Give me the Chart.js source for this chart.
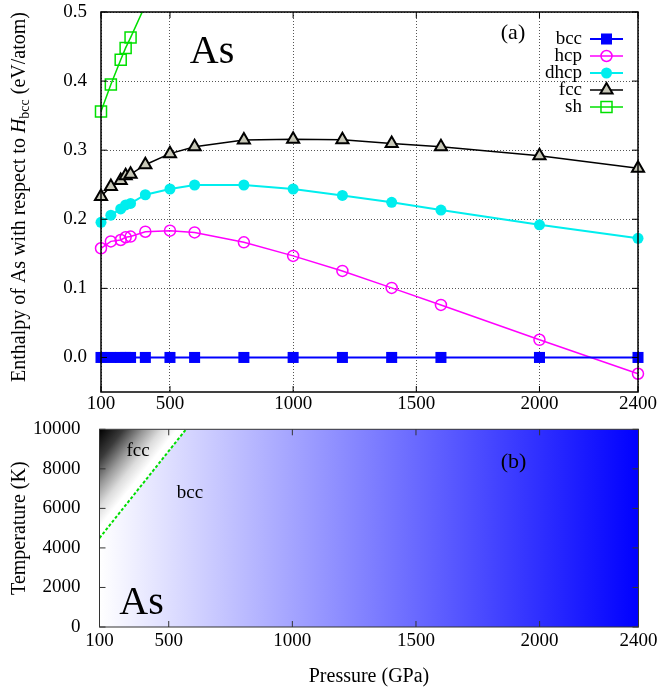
<!DOCTYPE html>
<html>
<head>
<meta charset="utf-8">
<script src="https://cdn.jsdelivr.net/npm/chart.js@4.4.1/dist/chart.umd.min.js"></script>
<style>
  html, body { margin: 0; padding: 0; background: #fff; }
  #wrap { position: relative; width: 659px; height: 688px; }
  canvas { position: absolute; left: 0; }
  #chartA { top: 0; }
  #chartB { top: 415px; }
</style>
</head>
<body>
<div id="wrap">
  <canvas id="chartA" width="659" height="415"></canvas>
  <canvas id="chartB" width="659" height="273"></canvas>
</div>
<script>
// pressures (GPa) of the computed points, panel (a)
var pressures = [220, 260, 300, 320, 340, 400, 500, 600, 800, 1000, 1200, 1400, 1600, 2000, 2400];
// enthalpy relative to bcc (eV/atom)
var bccH  = [0, 0, 0, 0, 0, 0, 0, 0, 0, 0, 0, 0, 0, 0, 0];
var hcpH  = [0.158, 0.168, 0.170, 0.174, 0.175, 0.182, 0.1835, 0.181, 0.1666, 0.147, 0.1252, 0.1007, 0.076, 0.0256, -0.0236];
var dhcpH = [0.1956, 0.206, 0.215, 0.2207, 0.223, 0.2355, 0.2438, 0.2496, 0.2496, 0.2438, 0.2345, 0.2245, 0.2134, 0.192, 0.1724];
var fccH  = [0.233, 0.2476, 0.256, 0.263, 0.265, 0.279, 0.295, 0.305, 0.3146, 0.316, 0.315, 0.3097, 0.305, 0.292, 0.274];
var shP   = [220, 260, 300, 320, 340, 400];
var shH   = [0.356, 0.395, 0.431, 0.448, 0.463, 0.51];

// axis ticks
var xTickValues = [220, 500, 1000, 1500, 2000, 2400];
var xTickLabels = ["100", "500", "1000", "1500", "2000", "2400"];
var yTickValuesA = [0, 0.1, 0.2, 0.3, 0.4, 0.5];
var yTickValuesB = [0, 2000, 4000, 6000, 8000, 10000];

// panel (b): fcc/bcc phase boundary
var boundaryP = [220, 570];
var boundaryT = [4500, 10000];

Chart.defaults.font.family = "'Liberation Serif', 'DejaVu Serif', serif";
Chart.defaults.color = "#000";

var SERIF = "'Liberation Serif', 'DejaVu Serif', serif";

function pts(xs, ys) {
  return xs.map(function(x, i) { return { x: x, y: ys[i] }; });
}

function drawMarker(ctx, ds, x, y) {
  var r = ds.pointRadius;
  ctx.save();
  ctx.lineWidth = ds.pointBorderWidth;
  ctx.strokeStyle = ds.pointBorderColor;
  ctx.fillStyle = ds.pointBackgroundColor;
  ctx.beginPath();
  if (ds.pointStyle === "rect") {
    var s = r * Math.SQRT1_2;
    ctx.rect(x - s, y - s, 2 * s, 2 * s);
  } else if (ds.pointStyle === "triangle") {
    ctx.moveTo(x, y - r);
    ctx.lineTo(x + r * 0.866, y + r / 2);
    ctx.lineTo(x - r * 0.866, y + r / 2);
    ctx.closePath();
  } else {
    ctx.arc(x, y, r, 0, 2 * Math.PI);
  }
  ctx.fill();
  if (ds.pointBorderWidth) ctx.stroke();
  ctx.restore();
}

// inward tick marks on all four sides + frame
function frameAndTicks(color, width) {
  return {
    id: "frameTicks",
    afterDatasetsDraw: function(chart) {
      var a = chart.chartArea, ctx = chart.ctx;
      ctx.save();
      ctx.strokeStyle = color;
      ctx.lineWidth = 1;
      ctx.beginPath();
      chart.scales.x.ticks.forEach(function(t) {
        var px = chart.scales.x.getPixelForValue(t.value);
        ctx.moveTo(px, a.bottom); ctx.lineTo(px, a.bottom - 6);
        ctx.moveTo(px, a.top); ctx.lineTo(px, a.top + 6);
      });
      chart.scales.y.ticks.forEach(function(t) {
        var py = chart.scales.y.getPixelForValue(t.value);
        ctx.moveTo(a.left, py); ctx.lineTo(a.left + 6, py);
        ctx.moveTo(a.right, py); ctx.lineTo(a.right - 6, py);
      });
      ctx.stroke();
      ctx.lineWidth = width;
      ctx.strokeRect(a.left, a.top, a.right - a.left, a.bottom - a.top);
      ctx.restore();
    }
  };
}

function text(ctx, s, x, y, size, align) {
  ctx.font = size + "px " + SERIF;
  ctx.textAlign = align || "center";
  ctx.textBaseline = "middle";
  ctx.fillStyle = "#000";
  ctx.fillText(s, x, y);
}

function noPadH(s, h) { s.height = h; s.paddingLeft = 0; s.paddingRight = 0; }
function noPadV(s, w) { s.width = w; s.paddingTop = 0; s.paddingBottom = 0; }

var decorA = {
  id: "decorA",
  afterDraw: function(chart) {
    var ctx = chart.ctx, a = chart.chartArea;
    ctx.save();
    text(ctx, "As", 212, 52, 40);
    text(ctx, "(a)", 513, 33, 22);

    // legend
    var dsets = chart.data.datasets;
    for (var i = 0; i < dsets.length; i++) {
      var ds = dsets[i];
      var y = a.top + 27 + i * 17;
      text(ctx, ds.label, a.right - 56, y, 19, "right");
      ctx.strokeStyle = ds.borderColor;
      ctx.lineWidth = ds.borderWidth;
      ctx.beginPath();
      ctx.moveTo(a.right - 48, y);
      ctx.lineTo(a.right - 15, y);
      ctx.stroke();
      drawMarker(ctx, ds, a.right - 31.5, y);
    }

    // y axis title with subscript
    var parts = [
      { s: "Enthalpy of As with respect to ", f: "20px " + SERIF, dy: 0 },
      { s: "H", f: "italic 20px " + SERIF, dy: 0 },
      { s: "bcc", f: "14px " + SERIF, dy: 5 },
      { s: " (eV/atom)", f: "20px " + SERIF, dy: 0 }
    ];
    var total = 0;
    parts.forEach(function(p) { ctx.font = p.f; p.w = ctx.measureText(p.s).width; total += p.w; });
    ctx.translate(20, (a.top + a.bottom) / 2 - 5);
    ctx.rotate(-Math.PI / 2);
    ctx.textAlign = "left";
    ctx.textBaseline = "middle";
    ctx.fillStyle = "#000";
    var x = -total / 2;
    parts.forEach(function(p) { ctx.font = p.f; ctx.fillText(p.s, x, p.dy); x += p.w; });
    ctx.restore();
  }
};

var gridStyle = { color: "#555", lineWidth: 1, drawTicks: false };

new Chart(document.getElementById("chartA"), {
  type: "line",
  data: {
    datasets: [
      { label: "bcc", data: pts(pressures, bccH), borderColor: "#0000ff", borderWidth: 2,
        pointStyle: "rect", pointRadius: 7.8, pointBackgroundColor: "#0000ff", pointBorderColor: "#0000ff",
        pointBorderWidth: 0, clip: false },
      { label: "hcp", data: pts(pressures, hcpH), borderColor: "#ff00ff", borderWidth: 1.5,
        pointStyle: "circle", pointRadius: 5.5, pointBackgroundColor: "rgba(0,0,0,0)", pointBorderColor: "#ff00ff",
        pointBorderWidth: 1.5, clip: false },
      { label: "dhcp", data: pts(pressures, dhcpH), borderColor: "#00eeee", borderWidth: 2,
        pointStyle: "circle", pointRadius: 5.5, pointBackgroundColor: "#00eeee", pointBorderColor: "#00eeee",
        pointBorderWidth: 0, clip: false },
      { label: "fcc", data: pts(pressures, fccH), borderColor: "#000000", borderWidth: 1.5,
        pointStyle: "triangle", pointRadius: 7, pointBackgroundColor: "#c8c8b8", pointBorderColor: "#000000",
        pointBorderWidth: 2, clip: false },
      { label: "sh", data: pts(shP, shH), borderColor: "#00e000", borderWidth: 1.5,
        pointStyle: "rect", pointRadius: 7.8, pointBackgroundColor: "rgba(0,0,0,0)", pointBorderColor: "#00e000",
        pointBorderWidth: 1.5, clip: { left: 10, right: 10, top: 0, bottom: 10 } }
    ]
  },
  options: {
    responsive: false,
    animation: false,
    events: [],
    layout: { padding: { top: 12, right: 21, left: 0, bottom: 0 } },
    elements: { line: { tension: 0 } },
    plugins: { legend: { display: false }, tooltip: { enabled: false } },
    scales: {
      x: {
        type: "linear", min: 220, max: 2400,
        afterBuildTicks: function(s) { s.ticks = xTickValues.map(function(v) { return { value: v }; }); },
        afterFit: function(s) { noPadH(s, 23); },
        ticks: { autoSkip: false, maxRotation: 0, padding: 3, font: { size: 19, lineHeight: 1 },
                 callback: function(v, i) { return xTickLabels[i]; } },
        grid: gridStyle,
        border: { display: false, dash: [1, 2] }
      },
      y: {
        min: -0.05, max: 0.5,
        afterBuildTicks: function(s) { s.ticks = yTickValuesA.map(function(v) { return { value: v }; }); },
        afterFit: function(s) { noPadV(s, 101); },
        ticks: { padding: 14, font: { size: 19, lineHeight: 1 },
                 callback: function(v) { return v.toFixed(1); } },
        grid: gridStyle,
        border: { display: false, dash: [1, 2] }
      }
    }
  },
  plugins: [frameAndTicks("#000", 1.5), decorA]
});

// panel (b)
var bccField = {
  id: "bccField",
  beforeDatasetsDraw: function(chart) {
    var a = chart.chartArea, ctx = chart.ctx;
    var g = ctx.createLinearGradient(a.left, 0, a.right, 0);
    g.addColorStop(0, "#ffffff");
    g.addColorStop(1, "#0000ff");
    ctx.save();
    ctx.fillStyle = g;
    ctx.fillRect(a.left, a.top, a.right - a.left, a.bottom - a.top);
    ctx.restore();
  }
};

var decorB = {
  id: "decorB",
  afterDraw: function(chart) {
    var ctx = chart.ctx;
    ctx.save();
    text(ctx, "(b)", 513.5, 47, 22);
    text(ctx, "fcc", 138, 36, 19);
    text(ctx, "bcc", 190, 78, 19);
    text(ctx, "As", 141.5, 188, 40);
    ctx.restore();
  }
};

function fccShade(c) {
  var chart = c.chart, a = chart.chartArea;
  if (!a) return "rgba(0,0,0,0)";
  var xs = chart.scales.x, ys = chart.scales.y;
  var x1 = xs.getPixelForValue(boundaryP[0]), y1 = ys.getPixelForValue(boundaryT[0]);
  var x2 = xs.getPixelForValue(boundaryP[1]), y2 = ys.getPixelForValue(boundaryT[1]);
  var len = Math.hypot(x2 - x1, y2 - y1);
  var ux = (x2 - x1) / len, uy = (y2 - y1) / len;
  var d = (a.left - x1) * ux + (a.top - y1) * uy;
  var fx = x1 + ux * d, fy = y1 + uy * d;
  var g = chart.ctx.createLinearGradient(fx, fy, a.left, a.top);
  g.addColorStop(0, "#ffffff");
  g.addColorStop(0.1, "#ffffff");
  g.addColorStop(0.28, "#dcdcdc");
  g.addColorStop(0.48, "#999999");
  g.addColorStop(0.72, "#3a3a3a");
  g.addColorStop(1, "#000000");
  return g;
}

new Chart(document.getElementById("chartB"), {
  type: "line",
  data: {
    datasets: [
      { label: "fcc-bcc", data: pts(boundaryP, boundaryT), borderColor: "#00dd00", borderWidth: 2,
        borderDash: [3, 2], pointRadius: 0, fill: "end", backgroundColor: fccShade }
    ]
  },
  options: {
    responsive: false,
    animation: false,
    events: [],
    layout: { padding: { top: 14.3, right: 20.5, left: 0, bottom: 0 } },
    plugins: { legend: { display: false }, tooltip: { enabled: false } },
    scales: {
      x: {
        type: "linear", min: 220, max: 2400,
        afterBuildTicks: function(s) { s.ticks = xTickValues.map(function(v) { return { value: v }; }); },
        afterFit: function(s) { noPadH(s, 61); },
        ticks: { autoSkip: false, maxRotation: 0, padding: -3, font: { size: 19, lineHeight: 1 },
                 callback: function(v, i) { return xTickLabels[i]; } },
        grid: { display: false },
        border: { display: false },
        title: { display: true, text: "Pressure (GPa)", font: { size: 20, lineHeight: 1 },
                 padding: { top: 0, bottom: 1 } }
      },
      y: {
        min: 0, max: 10000,
        afterBuildTicks: function(s) { s.ticks = yTickValuesB.map(function(v) { return { value: v }; }); },
        afterFit: function(s) { noPadV(s, 99.5); },
        ticks: { padding: 11, font: { size: 19, lineHeight: 1 },
                 callback: function(v) { return String(v); } },
        grid: { display: false },
        border: { display: false },
        title: { display: true, text: "Temperature (K)", font: { size: 20, lineHeight: 1 },
                 padding: { top: 10, bottom: 0 } }
      }
    }
  },
  plugins: [bccField, frameAndTicks("#333", 1), decorB]
});
</script>
</body>
</html>
